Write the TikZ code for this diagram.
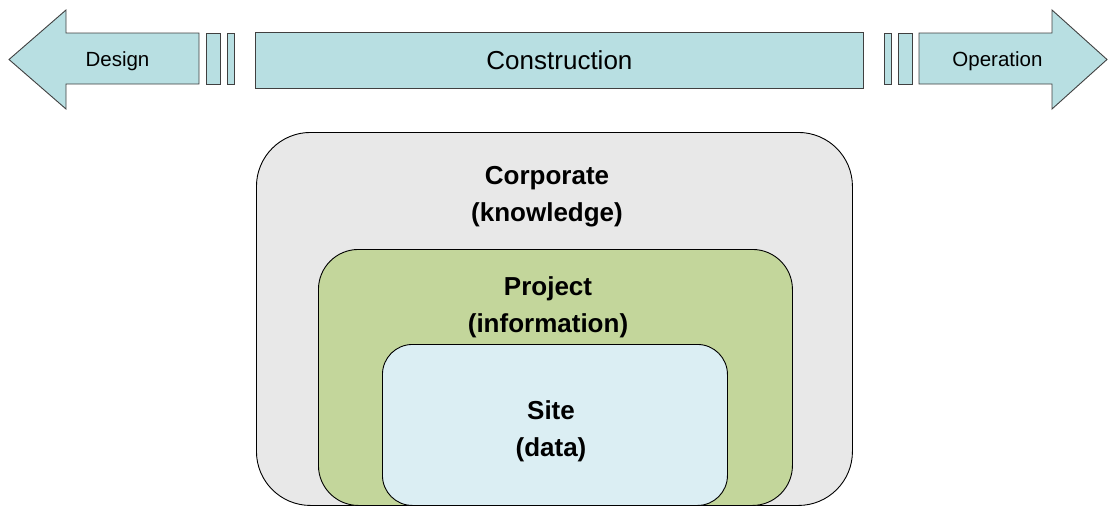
\documentclass[tikz,border=0pt]{standalone}
\usepackage{fontspec}
\setmainfont{Liberation Sans}
\usepackage{tikz}
\usetikzlibrary{positioning}

\definecolor{phasefill}{RGB}{184,223,226}
\definecolor{corpfill}{RGB}{232,232,232}
\definecolor{projfill}{RGB}{195,214,155}
\definecolor{sitefill}{RGB}{219,238,243}

\begin{document}
\begin{tikzpicture}[
    x=1pt, y=-1pt,
    phase/.style={draw=black!75,fill=phasefill,line width=0.9pt},
    bar/.style={phase,inner sep=0pt,minimum height=51pt,anchor=north west},
    level/.style={draw=black,line width=0.9pt,inner sep=0pt,anchor=north west},
    lbl/.style={align=center,font=\bfseries\fontsize{26}{37}\selectfont}
    ]

    \useasboundingbox (0,0) rectangle (1108,506);

    % project phases along the top
    \draw[phase] (199,33) -- (66,33) -- (66,10) -- (9,59.5) -- (66,109) -- (66,84) -- (199,84) -- cycle;
    \node[font=\fontsize{20.5}{24}\selectfont] (design) at (117.5,61.5) {Design};

    \node[bar,minimum width=14pt] (b1) at (206,33) {};
    \node[bar,minimum width=7pt] (b2) at (227,33) {};

    \node[phase,inner sep=0pt,minimum width=608pt,minimum height=56pt,anchor=north west,
          font=\fontsize{26}{30}\selectfont] (constr) at (255,32) {Construction};

    \node[bar,minimum width=7pt] (b3) at (884,33) {};
    \node[bar,minimum width=14pt] (b4) at (898,33) {};

    \draw[phase] (919,33) -- (1052,33) -- (1052,10) -- (1107,59.5) -- (1052,109) -- (1052,84) -- (919,84) -- cycle;
    \node[font=\fontsize{20.5}{24}\selectfont] (operation) at (997.5,61.5) {Operation};

    % nested levels
    \node[level,fill=corpfill,rounded corners=54pt,minimum width=596pt,minimum height=373pt] (corp) at (256,132) {};
    \node[level,fill=projfill,rounded corners=40pt,minimum width=474pt,minimum height=256pt] (proj) at (318,249) {};
    \node[level,fill=sitefill,rounded corners=30pt,minimum width=345pt,minimum height=161pt] (site) at (382,344) {};

    \node[lbl] (corplbl) at (547,197) {Corporate\\(knowledge)};
    \node[lbl] (projlbl) at (548,307) {Project\\(information)};
    \node[lbl] (sitelbl) at (551,431) {Site\\(data)};

  \end{tikzpicture}
\end{document}
